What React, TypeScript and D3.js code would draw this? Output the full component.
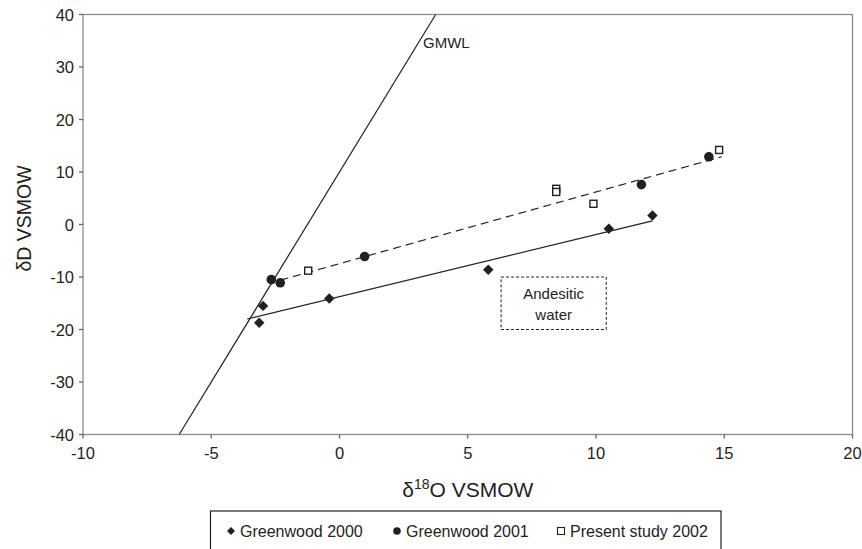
import { useRef, useEffect } from "react"
import * as d3 from "d3"

// axis ticks
const xTicks = [-10, -5, 0, 5, 10, 15, 20]
const yTicks = [-40, -30, -20, -10, 0, 10, 20, 30, 40]

// Greenwood 2000 (diamonds)
const gw2000X = [-3.13, -2.98, -0.4, 5.8, 10.5, 12.2]
const gw2000Y = [-18.7, -15.5, -14.1, -8.6, -0.8, 1.7]

// Greenwood 2001 (filled circles)
const gw2001X = [-2.66, -2.31, 0.98, 11.77, 14.4]
const gw2001Y = [-10.5, -11.1, -6.1, 7.6, 12.9]

// Present study 2002 (open squares)
const presentX = [-1.22, 8.45, 8.45, 9.9, 14.8]
const presentY = [-8.8, 6.8, 6.2, 3.95, 14.2]

// lines
const gmwlX = [-6.25, 3.75]
const gmwlY = [-40, 40]
const fit2000X = [-3.6, 12.2]
const fit2000Y = [-18.0, 0.7]
const fit2001X = [-2.3, 14.9]
const fit2001Y = [-10.6, 12.9]

// andesitic water field
const andesiticX = [6.3, 10.4]
const andesiticY = [-20, -10]

const legendLabels = ["Greenwood 2000", "Greenwood 2001", "Present study 2002"]

const FONT = "'Liberation Sans', Arial, sans-serif"
const INK = "#231f20"

export default function App() {
  const svgRef = useRef<SVGSVGElement | null>(null)

  useEffect(() => {
    if (!svgRef.current) return
    const svg = d3.select(svgRef.current)
    svg.selectAll("*").remove()

    const x = d3.scaleLinear().domain([-10, 20]).range([83, 852.5])
    const y = d3.scaleLinear().domain([-40, 40]).range([434.5, 14.5])

    // frame
    svg
      .append("rect")
      .attr("x", x(-10))
      .attr("y", y(40))
      .attr("width", x(20) - x(-10))
      .attr("height", y(-40) - y(40))
      .attr("fill", "none")
      .attr("stroke", "#8c8c8c")
      .attr("stroke-width", 1.3)

    // ticks
    svg
      .selectAll(".xtick")
      .data(xTicks)
      .enter()
      .append("line")
      .attr("x1", (d) => x(d))
      .attr("x2", (d) => x(d))
      .attr("y1", y(-40))
      .attr("y2", y(-40) + 4)
      .attr("stroke", "#666")
      .attr("stroke-width", 1.3)
    svg
      .selectAll(".ytick")
      .data(yTicks)
      .enter()
      .append("line")
      .attr("x1", x(-10) - 4)
      .attr("x2", x(-10))
      .attr("y1", (d) => y(d))
      .attr("y2", (d) => y(d))
      .attr("stroke", "#666")
      .attr("stroke-width", 1.3)

    svg
      .selectAll(".xlabel")
      .data(xTicks)
      .enter()
      .append("text")
      .attr("x", (d) => x(d))
      .attr("y", y(-40) + 18)
      .attr("text-anchor", "middle")
      .attr("dominant-baseline", "central")
      .style("font-family", FONT)
      .style("font-size", "16.5px")
      .style("fill", INK)
      .text((d) => String(d))
    svg
      .selectAll(".ylabel")
      .data(yTicks)
      .enter()
      .append("text")
      .attr("x", x(-10) - 9)
      .attr("y", (d) => y(d))
      .attr("text-anchor", "end")
      .attr("dominant-baseline", "central")
      .style("font-family", FONT)
      .style("font-size", "16.5px")
      .style("fill", INK)
      .text((d) => String(d))

    // axis titles
    const xt = svg
      .append("text")
      .attr("x", x(5))
      .attr("y", 497)
      .attr("text-anchor", "middle")
      .style("font-family", FONT)
      .style("font-size", "21px")
      .style("fill", INK)
    xt.append("tspan").text("δ")
    xt.append("tspan").attr("dy", -8).style("font-size", "14px").text("18")
    xt.append("tspan").attr("dy", 8).text("O VSMOW")

    svg
      .append("text")
      .attr("transform", `translate(24,${y(0) - 6}) rotate(-90)`)
      .attr("text-anchor", "middle")
      .attr("dominant-baseline", "central")
      .style("font-family", FONT)
      .style("font-size", "19.5px")
      .style("fill", INK)
      .text("δD VSMOW")

    svg
      .append("clipPath")
      .attr("id", "plotclip")
      .append("rect")
      .attr("x", x(-10))
      .attr("y", y(40))
      .attr("width", x(20) - x(-10))
      .attr("height", y(-40) - y(40))
    const plot = svg.append("g").attr("clip-path", "url(#plotclip)")

    const seg = (xs: number[], ys: number[]) =>
      d3
        .line<number>()
        .x((i) => x(xs[i]))
        .y((i) => y(ys[i]))(xs.map((_, i) => i))

    plot
      .append("path")
      .attr("d", seg(gmwlX, gmwlY))
      .attr("stroke", INK)
      .attr("stroke-width", 1.2)
      .attr("fill", "none")
    plot
      .append("path")
      .attr("d", seg(fit2000X, fit2000Y))
      .attr("stroke", INK)
      .attr("stroke-width", 1.2)
      .attr("fill", "none")
    plot
      .append("path")
      .attr("d", seg(fit2001X, fit2001Y))
      .attr("stroke", INK)
      .attr("stroke-width", 1.2)
      .attr("stroke-dasharray", "8,5")
      .attr("fill", "none")

    // andesitic water box
    plot
      .append("rect")
      .attr("x", x(andesiticX[0]))
      .attr("y", y(andesiticY[1]))
      .attr("width", x(andesiticX[1]) - x(andesiticX[0]))
      .attr("height", y(andesiticY[0]) - y(andesiticY[1]))
      .attr("fill", "none")
      .attr("stroke", INK)
      .attr("stroke-width", 1)
      .attr("stroke-dasharray", "3,2")
    const ax = (x(andesiticX[0]) + x(andesiticX[1])) / 2
    const ay = (y(andesiticY[0]) + y(andesiticY[1])) / 2
    ;["Andesitic", "water"].forEach((t, i) => {
      plot
        .append("text")
        .attr("x", ax)
        .attr("y", ay + (i === 0 ? -10 : 11))
        .attr("text-anchor", "middle")
        .attr("dominant-baseline", "central")
        .style("font-family", FONT)
        .style("font-size", "15px")
        .style("fill", INK)
        .text(t)
    })

    // GMWL label
    plot
      .append("text")
      .attr("x", 423)
      .attr("y", y(34.7))
      .attr("dominant-baseline", "central")
      .style("font-family", FONT)
      .style("font-size", "15px")
      .style("fill", INK)
      .text("GMWL")

    const diamond = d3.symbol().type(d3.symbolDiamond2)
    const addDiamond = (g: d3.Selection<any, any, any, any>, cx: number, cy: number, s: number) =>
      g
        .append("path")
        .attr("d", diamond.size(s)())
        .attr("transform", `translate(${cx},${cy})`)
        .attr("fill", INK)

    gw2000X.forEach((v, i) => addDiamond(plot, x(v), y(gw2000Y[i]), 70))
    gw2001X.forEach((v, i) =>
      plot
        .append("circle")
        .attr("cx", x(v))
        .attr("cy", y(gw2001Y[i]))
        .attr("r", 4.8)
        .attr("fill", INK)
    )
    presentX.forEach((v, i) =>
      plot
        .append("rect")
        .attr("x", x(v) - 3.5)
        .attr("y", y(presentY[i]) - 3.5)
        .attr("width", 7)
        .attr("height", 7)
        .attr("fill", "white")
        .attr("stroke", INK)
        .attr("stroke-width", 1.4)
    )

    // legend
    svg
      .append("rect")
      .attr("x", 210.5)
      .attr("y", 511)
      .attr("width", 510.5)
      .attr("height", 45)
      .attr("fill", "none")
      .attr("stroke", INK)
      .attr("stroke-width", 1.2)
    const legendX = [231, 397, 561]
    legendLabels.forEach((lab, i) => {
      const cx = legendX[i]
      const cy = 531
      if (i === 0) addDiamond(svg, cx, cy, 40)
      else if (i === 1) svg.append("circle").attr("cx", cx).attr("cy", cy).attr("r", 3.8).attr("fill", INK)
      else
        svg
          .append("rect")
          .attr("x", cx - 3.5)
          .attr("y", cy - 3.5)
          .attr("width", 7)
          .attr("height", 7)
          .attr("fill", "white")
          .attr("stroke", INK)
          .attr("stroke-width", 1.1)
      svg
        .append("text")
        .attr("x", cx + 9)
        .attr("y", cy)
        .attr("dominant-baseline", "central")
        .style("font-family", FONT)
        .style("font-size", "16px")
        .style("fill", INK)
        .text(lab)
    })
  }, [])

  return (
    <svg
      ref={svgRef}
      width={862}
      height={549}
      style={{ position: "absolute", left: 0, top: 0, background: "white" }}
    ></svg>
  )
}
